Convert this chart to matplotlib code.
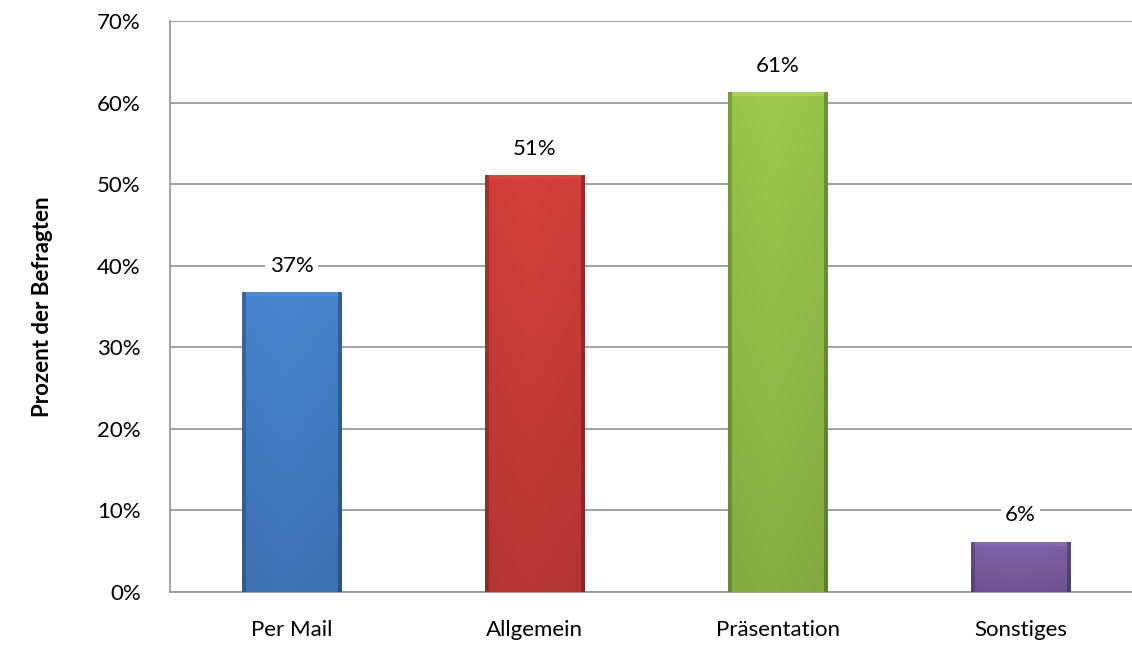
import matplotlib.pyplot as plt
import numpy as np
from matplotlib.colors import to_rgb

plt.rcParams['font.family'] = ['Lato', 'DejaVu Sans']

categories = ["Per Mail", "Allgemein", "Präsentation", "Sonstiges"]
values = [36.7, 51.0, 61.2, 6.1]
labels = ["37%", "51%", "61%", "6%"]
colors = ["#4580c8", "#cc3d3a", "#96c24a", "#7d5fa5"]

fig = plt.figure(figsize=(11.32, 6.46), dpi=100)
ax = fig.add_axes([170 / 1132, 54 / 646, 972 / 1132, 571 / 646])

x = np.arange(len(categories))
bars = ax.bar(x, values, width=0.41, color=colors, zorder=3)

# soft bevel shading on each bar (roughly one image row per pixel)
for b, c in zip(bars, colors):
    x0, y0 = b.get_x(), b.get_y()
    w, h = b.get_width(), b.get_height()
    rows = max(int(h * 571 / 70), 10)
    base = np.array(to_rgb(c))
    t = np.linspace(0, 1, 100)
    shade = 1.0 - 0.06 * np.abs(t - 0.45)
    shade[:4] = 0.78
    shade[-4:] = 0.72
    vert = np.linspace(0.9, 1.04, rows)[:, None]
    img = base[None, None, :] * shade[None, :, None] * vert[:, :, None]
    img[-4:, 4:-4, :] = np.clip(base * 1.1, 0, 1)
    img = np.clip(img, 0, 1)
    ax.imshow(img, extent=(x0, x0 + w, y0, y0 + h), origin="lower",
              aspect="auto", zorder=4, interpolation="bilinear")

for xi, v, lab in zip(x, values, labels):
    ax.text(xi, v + 3.3, lab, ha="center", va="center", fontsize=16, zorder=5,
            bbox=dict(facecolor="white", edgecolor="none", pad=3))

ax.set_xlim(-0.5, len(categories) - 0.5)
ax.set_ylim(0, 70)
ax.set_yticks(np.arange(0, 71, 10))
ax.set_yticklabels([f"{t}%" for t in range(0, 71, 10)])
ax.set_xticks(x)
ax.set_xticklabels(categories)
ax.tick_params(length=0, labelsize=16)
ax.tick_params(axis="y", pad=21)
ax.tick_params(axis="x", pad=20)
ax.yaxis.grid(True, color="#9a9a9a", linewidth=1.3, zorder=0)
ax.set_axisbelow(True)
for s in ["top", "right"]:
    ax.spines[s].set_visible(False)
for s in ["left", "bottom"]:
    ax.spines[s].set_color("#9a9a9a")
    ax.spines[s].set_linewidth(1.3)
ax.set_ylabel("Prozent der Befragten", fontsize=16, fontweight="bold", labelpad=32)

fig.savefig("out.png", dpi=100)
